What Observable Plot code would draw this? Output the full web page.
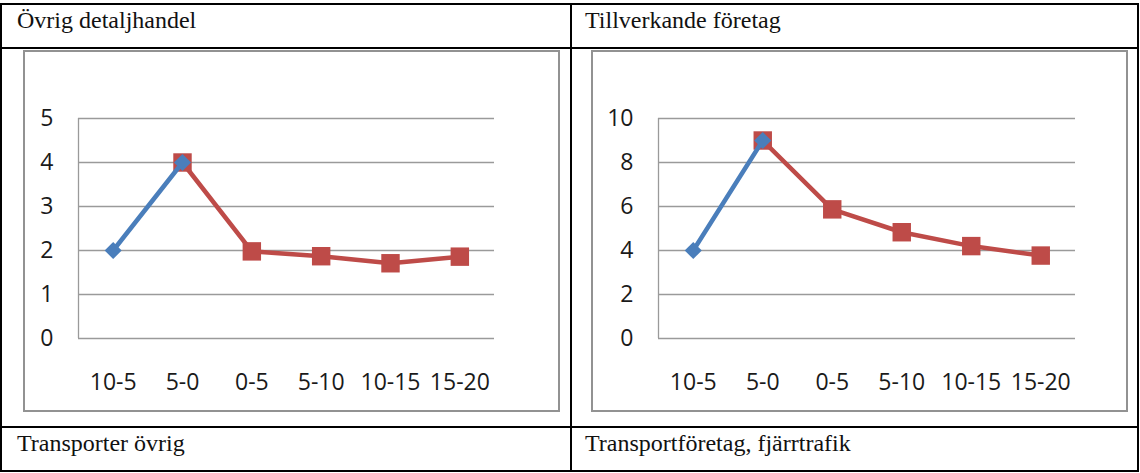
<!DOCTYPE html>
<html>
<head>
<meta charset="utf-8">
<script src="https://cdn.jsdelivr.net/npm/d3@7"></script>
<script src="https://cdn.jsdelivr.net/npm/@observablehq/plot@0.6"></script>
<style>
  html, body { margin: 0; padding: 0; background: #fff; }
  #page { position: relative; width: 1140px; height: 473px; overflow: hidden; }
  .bl { position: absolute; background: #000; }
  .cell { position: absolute; font-family: "Liberation Serif", "Times New Roman", serif; font-size: 24px; line-height: 24px; color: #111; white-space: nowrap; }
  .frame { position: absolute; box-sizing: border-box; border: 2px solid #929292; background: #fff; }
  .chart { position: absolute; }
  .chart svg { display: block; }
</style>
</head>
<body>
<div id="page">
  <div class="bl" style="left:0;top:3px;width:1139px;height:2px"></div>
  <div class="bl" style="left:0;top:47px;width:1139px;height:2px"></div>
  <div class="bl" style="left:0;top:426px;width:1139px;height:2px"></div>
  <div class="bl" style="left:0;top:470px;width:1139px;height:2px"></div>
  <div class="bl" style="left:0;top:3px;width:2px;height:469px"></div>
  <div class="bl" style="left:570px;top:3px;width:2px;height:469px"></div>
  <div class="bl" style="left:1137px;top:3px;width:2px;height:469px"></div>

  <div class="cell" id="t1" style="left:17px;top:8px"></div>
  <div class="cell" id="t2" style="left:585px;top:8px"></div>
  <div class="cell" id="t3" style="left:17px;top:431px"></div>
  <div class="cell" id="t4" style="left:585px;top:431px"></div>

  <div class="frame" style="left:23px;top:50px;width:537px;height:362px"></div>
  <div class="frame" style="left:591px;top:50px;width:537px;height:362px"></div>
  <div class="chart" id="c1" style="left:23px;top:50px"></div>
  <div class="chart" id="c2" style="left:591px;top:50px"></div>
</div>
<script>
// ---- data ----
const titles = ["Övrig detaljhandel", "Tillverkande företag", "Transporter övrig", "Transportföretag, fjärrtrafik"];
const categories = ["10-5", "5-0", "0-5", "5-10", "10-15", "15-20"];

const detaljBefore = [2, 4, null, null, null, null];
const detaljAfter  = [null, 4, 1.98, 1.87, 1.71, 1.86];
const detaljTicks  = [0, 1, 2, 3, 4, 5];

const tillvBefore = [4, 9, null, null, null, null];
const tillvAfter  = [null, 9, 5.87, 4.83, 4.2, 3.77];
const tillvTicks  = [0, 2, 4, 6, 8, 10];

// ---- drawing ----
const BLUE = "#4a7ebb";
const RED = "#be4b48";
const GRID = "#9a9a9a";

document.getElementById("t1").textContent = titles[0];
document.getElementById("t2").textContent = titles[1];
document.getElementById("t3").textContent = titles[2];
document.getElementById("t4").textContent = titles[3];

function chart(before, after, ticks, ml, mr) {
  const idx = categories.map((c, i) => i);
  const afterIdx = idx.filter(i => after[i] != null);
  const beforeIdx = idx.filter(i => before[i] != null);
  return Plot.plot({
    width: 537,
    height: 362,
    marginLeft: ml,
    marginRight: mr,
    marginTop: 68,
    marginBottom: 74,
    style: {fontFamily: "'Open Sans', sans-serif", fontSize: "23px", color: "#1a1a1a", background: "transparent", overflow: "visible"},
    x: {type: "linear", domain: [-0.5, categories.length - 0.5]},
    y: {domain: [0, ticks[ticks.length - 1]]},
    marks: [
      Plot.gridY(ticks, {stroke: GRID, strokeOpacity: 1, strokeWidth: 1.3}),
      Plot.ruleX([-0.5], {stroke: GRID, strokeWidth: 1.3}),
      Plot.axisY(ticks, {tickSize: 0, tickPadding: 25, fontSize: 23, fill: "#1a1a1a", label: null}),
      Plot.axisX(idx, {tickSize: 0, tickPadding: 35, fontSize: 23, fill: "#1a1a1a", label: null, tickFormat: i => categories[i]}),
      Plot.line(afterIdx, {x: i => i, y: i => after[i], stroke: RED, strokeWidth: 4.5}),
      Plot.dot(afterIdx, {x: i => i, y: i => after[i], symbol: "square", r: 10.4, fill: RED, stroke: "none"}),
      Plot.line(beforeIdx, {x: i => i, y: i => before[i], stroke: BLUE, strokeWidth: 4.5}),
      Plot.dot(beforeIdx, {x: i => i, y: i => before[i], symbol: "diamond2", r: 7.7, fill: BLUE, stroke: "none"})
    ]
  });
}

document.getElementById("c1").appendChild(chart(detaljBefore, detaljAfter, detaljTicks, 55, 66));
document.getElementById("c2").appendChild(chart(tillvBefore, tillvAfter, tillvTicks, 67, 53));
</script>
</body>
</html>
